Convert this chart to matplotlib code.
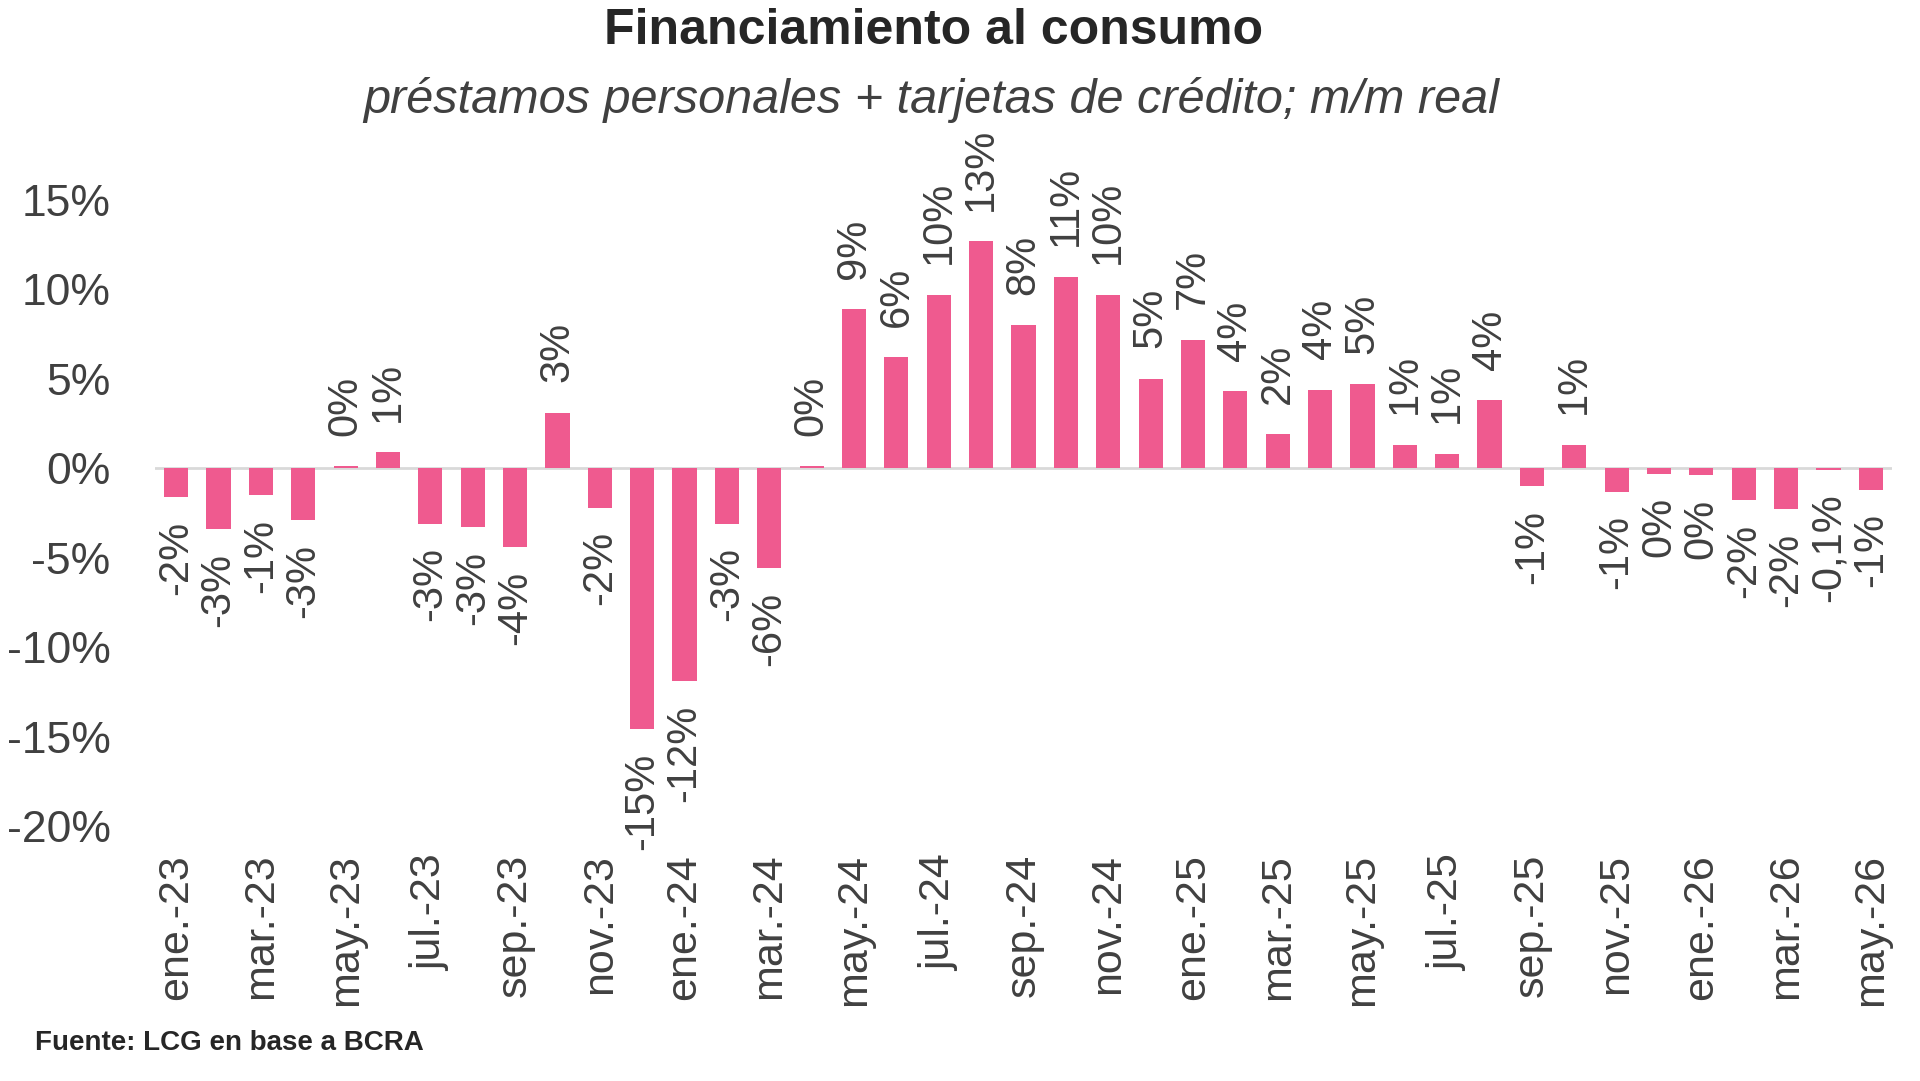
import matplotlib

matplotlib.use("Agg")
import matplotlib.pyplot as plt
import numpy as np

# Financiamiento al consumo, m/m real (%)
months = [
    "ene.-23", "feb.-23", "mar.-23", "abr.-23", "may.-23", "jun.-23",
    "jul.-23", "ago.-23", "sep.-23", "oct.-23", "nov.-23", "dic.-23",
    "ene.-24", "feb.-24", "mar.-24", "abr.-24", "may.-24", "jun.-24",
    "jul.-24", "ago.-24", "sep.-24", "oct.-24", "nov.-24", "dic.-24",
    "ene.-25", "feb.-25", "mar.-25", "abr.-25", "may.-25", "jun.-25",
    "jul.-25", "ago.-25", "sep.-25", "oct.-25", "nov.-25", "dic.-25",
    "ene.-26", "feb.-26", "mar.-26", "abr.-26", "may.-26",
]
values = [
    -1.6, -3.4, -1.5, -2.9, 0.1, 0.9,
    -3.1, -3.3, -4.4, 3.1, -2.2, -14.6,
    -11.9, -3.1, -5.6, 0.1, 8.9, 6.2,
    9.7, 12.7, 8.0, 10.7, 9.7, 5.0,
    7.2, 4.3, 1.9, 4.4, 4.7, 1.3,
    0.8, 3.8, -1.0, 1.3, -1.3, -0.3,
    -0.4, -1.8, -2.3, -0.1, -1.2,
]
labels = [
    "-2%", "-3%", "-1%", "-3%", "0%", "1%",
    "-3%", "-3%", "-4%", "3%", "-2%", "-15%",
    "-12%", "-3%", "-6%", "0%", "9%", "6%",
    "10%", "13%", "8%", "11%", "10%", "5%",
    "7%", "4%", "2%", "4%", "5%", "1%",
    "1%", "4%", "-1%", "1%", "-1%", "0%",
    "0%", "-2%", "-2%", "-0,1%", "-1%",
]
yticks = [-20, -15, -10, -5, 0, 5, 10, 15]

PINK = "#EF5A8F"
INK = "#404040"
SANS = ["Liberation Sans", "DejaVu Sans"]

fig = plt.figure(figsize=(19.2, 10.81), dpi=100)
ax = fig.add_axes([155 / 1920, 1 - 826 / 1081, (1892 - 155) / 1920, (826 - 200) / 1081])

x = np.arange(len(values))
ax.bar(x, values, width=0.57, color=PINK, zorder=2)
ax.axhline(0, color="#D9D9D9", lw=2, zorder=1)

for xi, v, lab in zip(x, values, labels):
    if v >= 0:
        ax.annotate(lab, (xi, v), xytext=(0, 22), textcoords="offset points",
                    rotation=90, ha="center", va="bottom", fontsize=30,
                    color=INK, family=SANS, annotation_clip=False)
    else:
        ax.annotate(lab, (xi, v), xytext=(0, -17), textcoords="offset points",
                    rotation=90, ha="center", va="top", fontsize=30,
                    color=INK, family=SANS, annotation_clip=False)

ax.set_xlim(-0.5, len(values) - 0.5)
ax.set_ylim(-20, 15)
ax.set_yticks(yticks)
ax.set_yticklabels([f"{t}%" for t in yticks], family=SANS, fontsize=32, color=INK)
ax.set_xticks(x[::2])
ax.set_xticklabels(months[::2], rotation=90, family=SANS, fontsize=31, color=INK)
ax.tick_params(axis="y", length=0, pad=32)
ax.tick_params(axis="x", length=0, pad=20)
for s in ax.spines.values():
    s.set_visible(False)

fig.text(0.486, 1 - 31 / 1081, "Financiamiento al consumo", ha="center", va="center",
         fontsize=36, weight="bold", color="#262626", family=SANS)
fig.text(0.485, 1 - 100 / 1081, "préstamos personales + tarjetas de crédito; m/m real",
         ha="center", va="center", fontsize=35, style="italic", color=INK, family=SANS)
fig.text(35 / 1920, 1 - 1043 / 1081, "Fuente: LCG en base a BCRA", ha="left", va="center",
         fontsize=20, weight="bold", color="#262626", family=SANS)

fig.savefig("out.png", dpi=100, facecolor="white")
